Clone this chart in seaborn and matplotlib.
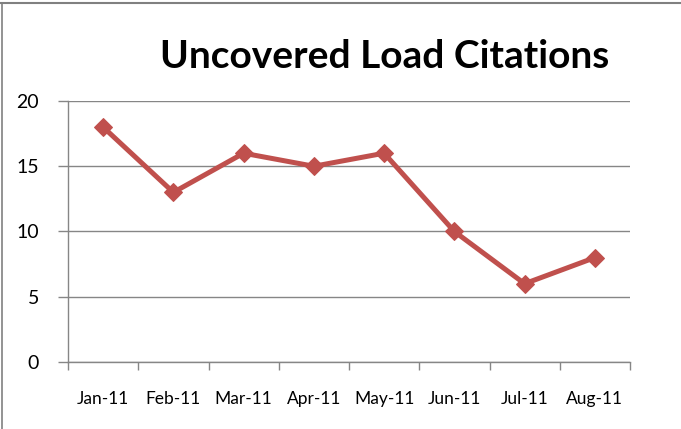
import matplotlib
matplotlib.use("Agg")
import matplotlib.pyplot as plt
import seaborn as sns
import pandas as pd
from matplotlib.lines import Line2D

months = ["Jan-11", "Feb-11", "Mar-11", "Apr-11", "May-11", "Jun-11", "Jul-11", "Aug-11"]
citations = [18, 13, 16, 15, 16, 10, 6, 8]
yticks = [0, 5, 10, 15, 20]
title = "Uncovered Load Citations"

sns.set_style("white")
plt.rcParams["font.family"] = ["Lato", "DejaVu Sans"]
plt.rcParams["text.color"] = "black"
plt.rcParams["xtick.color"] = "black"
plt.rcParams["ytick.color"] = "black"

df = pd.DataFrame({"month": months, "citations": citations})

fig = plt.figure(figsize=(6.81, 4.29), dpi=100)
ax = fig.add_axes([68/681, 67/429, 562/681, 261/429])

sns.lineplot(data=df, x="month", y="citations", ax=ax, color="#C0504D",
             linewidth=3.6, marker="D", markersize=9, markeredgecolor="#C0504D",
             sort=False)

ax.set_xlim(-0.5, len(months) - 0.5)
ax.set_ylim(0, 20)
ax.set_yticks(yticks)
ax.yaxis.grid(True, color="#868686", linewidth=1)
ax.xaxis.grid(False)
ax.set_axisbelow(True)
ax.set_xlabel("")
ax.set_ylabel("")

ax.set_xticks(range(len(months)))
ax.set_xticklabels(months, fontsize=12.5)
ax.set_xticks([i - 0.5 for i in range(len(months) + 1)], minor=True)
ax.tick_params(axis="x", which="major", length=0, pad=21, labelcolor="black")
ax.tick_params(axis="x", which="minor", length=6, width=1, color="#868686", direction="out", bottom=True)
ax.tick_params(axis="y", length=7, width=1, color="#868686", direction="out", left=True, pad=14,
               labelsize=14, labelcolor="black")

for s in ["top", "right"]:
    ax.spines[s].set_visible(False)
for s in ["left", "bottom"]:
    ax.spines[s].set_visible(True)
    ax.spines[s].set_color("#868686")
    ax.spines[s].set_linewidth(1)

fig.text(385/681, 1 - 56/429, title, ha="center", va="center",
         fontsize=28, fontweight="bold", color="black")

fig.add_artist(Line2D([0, 1], [1 - 3/429, 1 - 3/429], transform=fig.transFigure, color="#808080", linewidth=1.5))
fig.add_artist(Line2D([2/681, 2/681], [0, 1 - 3/429], transform=fig.transFigure, color="#808080", linewidth=1.2))

fig.savefig("out.png", dpi=100)
